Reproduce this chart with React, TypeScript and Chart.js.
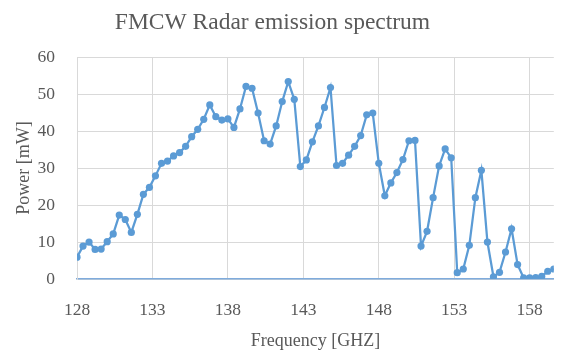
import React, { useEffect, useRef } from "react";
import { Chart, registerables } from "chart.js";

Chart.register(...registerables);

const chartTitle = "FMCW Radar emission spectrum";
const xTitle = "Frequency [GHZ]";
const yTitle = "Power [mW]";

const frequencies = [
  128.0, 128.4, 128.8, 129.2, 129.6, 130.0, 130.4, 130.8, 131.2, 131.6,
  132.0, 132.4, 132.8, 133.2, 133.6, 134.0, 134.4, 134.8, 135.2, 135.6,
  136.0, 136.4, 136.8, 137.2, 137.6, 138.0, 138.4, 138.8, 139.2, 139.6,
  140.0, 140.4, 140.8, 141.2, 141.6, 142.0, 142.4, 142.8, 143.2, 143.6,
  144.0, 144.4, 144.8, 145.2, 145.6, 146.0, 146.4, 146.8, 147.2, 147.6,
  148.0, 148.4, 148.8, 149.2, 149.6, 150.0, 150.4, 150.8, 151.2, 151.6,
  152.0, 152.4, 152.8, 153.2, 153.6, 154.0, 154.4, 154.8, 155.2, 155.6,
  156.0, 156.4, 156.8, 157.2, 157.6, 158.0, 158.4, 158.8, 159.2, 159.6,
];

const power = [
  5.9, 8.9, 10.0, 8.0, 8.1, 10.1, 12.2, 17.3, 16.1, 12.6,
  17.5, 22.9, 24.8, 27.9, 31.3, 31.9, 33.3, 34.2, 35.9, 38.5,
  40.5, 43.2, 47.1, 43.9, 43.0, 43.3, 41.0, 46.0, 52.1, 51.6,
  44.9, 37.4, 36.5, 41.4, 48.0, 53.4, 48.6, 30.4, 32.2, 37.1,
  41.4, 46.4, 51.8, 30.7, 31.3, 33.5, 35.9, 38.8, 44.4, 44.9,
  31.3, 22.5, 26.0, 28.8, 32.3, 37.4, 37.5, 8.9, 12.9, 22.0,
  30.6, 35.2, 32.8, 1.7, 2.7, 9.1, 22.0, 29.4, 10.0, 0.6,
  1.8, 7.3, 13.6, 3.9, 0.3, 0.3, 0.4, 0.7, 2.1, 2.7,
];

const xTicks = [128, 133, 138, 143, 148, 153, 158];
const yTicks = [0, 10, 20, 30, 40, 50, 60];

const FONT = "'Liberation Serif', 'DejaVu Serif', serif";
const TEXT = "#595959";
const GRID = "#d9d9d9";
const BLUE = "#5b9bd5";

const titleShift = {
  id: "titleShift",
  afterLayout(chart: any) {
    if (chart.titleBlock) {
      chart.titleBlock.right = chart.titleBlock.right - 19;
    }
  },
};

export default function App() {
  const ref = useRef<HTMLCanvasElement | null>(null);

  useEffect(() => {
    if (!ref.current) return;
    const points = frequencies.map((f, i) => ({ x: f, y: power[i] }));
    const chart = new Chart(ref.current, {
      type: "scatter",
      data: {
        datasets: [
          {
            data: points,
            showLine: true,
            borderColor: BLUE,
            backgroundColor: BLUE,
            borderWidth: 2.25,
            pointRadius: 3.6,
            pointBorderWidth: 0,
            pointBackgroundColor: BLUE,
            tension: 0,
          },
        ],
      },
      plugins: [titleShift],
      options: {
        animation: false,
        responsive: false,
        devicePixelRatio: 1,
        layout: { padding: 0 },
        plugins: {
          legend: { display: false },
          tooltip: { enabled: false },
          title: {
            display: true,
            text: chartTitle,
            color: TEXT,
            font: { family: FONT, size: 23.5, weight: "normal" },
            padding: { top: 9, bottom: 20 },
          },
        },
        scales: {
          x: {
            type: "linear",
            min: 128,
            max: 159.6,
            afterBuildTicks: (scale: any) => {
              scale.ticks = xTicks.map((v) => ({ value: v }));
            },
            afterFit: (scale: any) => {
              scale.height = 75;
            },
            ticks: {
              color: TEXT,
              font: { family: FONT, size: 17.5 },
              padding: 21,
              maxRotation: 0,
              autoSkip: false,
              callback: (v: any) => String(v),
            },
            grid: { color: GRID, lineWidth: 1, drawTicks: false },
            border: { color: "#7fabdc", width: 1.5 },
            title: {
              display: true,
              text: xTitle,
              color: TEXT,
              font: { family: FONT, size: 18 },
              padding: { top: 0, bottom: 2 },
            },
          },
          y: {
            type: "linear",
            min: 0,
            max: 60,
            afterBuildTicks: (scale: any) => {
              scale.ticks = yTicks.map((v) => ({ value: v }));
            },
            afterFit: (scale: any) => {
              scale.width = 77;
            },
            ticks: {
              color: TEXT,
              font: { family: FONT, size: 17.5 },
              padding: 22,
              callback: (v: any) => String(v),
            },
            grid: { color: GRID, lineWidth: 1, drawTicks: false },
            border: { color: GRID, width: 1 },
            title: {
              display: true,
              text: yTitle,
              color: TEXT,
              font: { family: FONT, size: 18 },
              padding: { top: 13, bottom: 0 },
            },
          },
        },
      },
    });
    return () => chart.destroy();
  }, []);

  return (
    <div style={{ position: "fixed", left: 0, top: 0, width: 564, height: 354, background: "#fff" }}>
      <canvas ref={ref} width={564} height={354} style={{ width: 564, height: 354, display: "block" }} />
    </div>
  );
}
